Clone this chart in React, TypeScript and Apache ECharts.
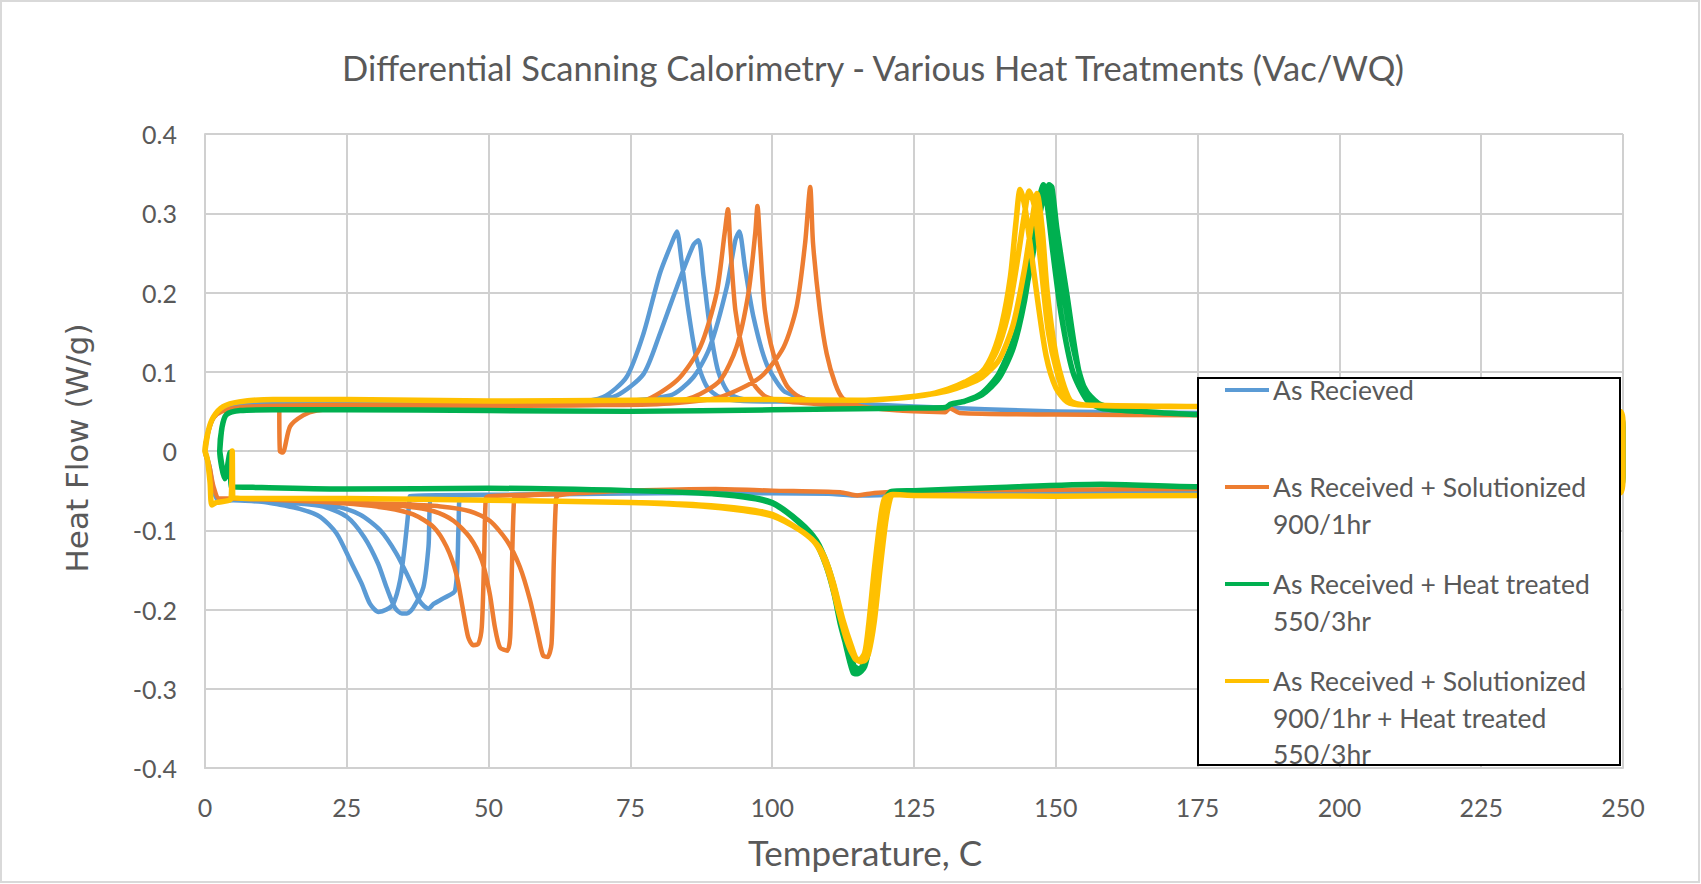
import React, { useEffect, useRef } from "react";
import * as echarts from "echarts";

type Pt = [number, number];

const xTicks = [0, 25, 50, 75, 100, 125, 150, 175, 200, 225, 250];
const yTicks = [-0.4, -0.3, -0.2, -0.1, 0, 0.1, 0.2, 0.3, 0.4];

const seriesNames = [
  "As Recieved",
  "As Received + Solutionized 900/1hr",
  "As Received + Heat treated 550/3hr",
  "As Received + Solutionized 900/1hr + Heat treated 550/3hr",
];
const legendLines = [
  ["As Recieved"],
  ["As Received + Solutionized", "900/1hr"],
  ["As Received + Heat treated", "550/3hr"],
  ["As Received + Solutionized", "900/1hr + Heat treated", "550/3hr"],
];
const colors = ["#5B9BD5", "#ED7D31", "#00B050", "#FFC000"];

// ---------- As Recieved (blue) ----------
const blueHeatStart: Pt[] = [[0, 0], [0.6, 0.025], [1.5, 0.042], [3, 0.052], [6, 0.057], [12, 0.06], [25, 0.061], [50, 0.061], [65, 0.062]];
const bluePeak1: Pt[] = [[70.2, 0.068], [74.3, 0.093], [77.3, 0.148], [80.2, 0.224], [82.6, 0.268], [83.2, 0.277], [84.0, 0.241], [85.2, 0.178], [86.7, 0.115], [88.5, 0.081], [90.8, 0.068], [95, 0.063]];
const bluePeak2: Pt[] = [[68, 0.063], [72.6, 0.07], [77.3, 0.097], [80.2, 0.148], [83.2, 0.207], [86.1, 0.26], [87.0, 0.266], [87.9, 0.22], [89.0, 0.157], [90.5, 0.1], [92.5, 0.072], [96, 0.064]];
const bluePeak3: Pt[] = [[70, 0.062], [82, 0.07], [86.1, 0.093], [89, 0.131], [92, 0.207], [93.5, 0.266], [94.2, 0.277], [95.2, 0.232], [96.7, 0.169], [99, 0.11], [102, 0.076], [104.8, 0.068]];
const blueHeatEnd: Pt[] = [[108, 0.062], [125, 0.056], [150, 0.05], [175, 0.048], [200, 0.047], [249.5, 0.046], [250, 0.03], [250, -0.03], [249.5, -0.05]];
const blueCoolStart: Pt[] = [[225, -0.05], [200, -0.051], [175, -0.051], [150, -0.052], [125, -0.054], [117, -0.056], [114, -0.056], [110, -0.054], [90, -0.053], [70, -0.054], [55, -0.055]];
const blueValley1: Pt[] = [[36.1, -0.057], [36.0, -0.066], [35.2, -0.121], [34.4, -0.163], [33.2, -0.193], [32.0, -0.2], [30.6, -0.203], [29.1, -0.193], [27.6, -0.167], [25.6, -0.138], [23.2, -0.104], [20.3, -0.083], [16.7, -0.073], [12.6, -0.067]];
const blueValley2: Pt[] = [[40, -0.057], [39.4, -0.121], [38.5, -0.172], [36.7, -0.198], [35.6, -0.205], [34.7, -0.205], [33.5, -0.198], [32, -0.172], [30.5, -0.142], [28.1, -0.109], [25, -0.083], [20.9, -0.07], [16.2, -0.066]];
const blueValley3: Pt[] = [[45, -0.057], [44.7, -0.096], [44.1, -0.176], [42, -0.186], [40.3, -0.193], [39.4, -0.199], [37.9, -0.19], [36.1, -0.163], [33.8, -0.13], [30.9, -0.1], [27.3, -0.08], [22.6, -0.069], [18, -0.066]];
const blueCoolEnd: Pt[] = [[10, -0.064], [5, -0.062], [2.5, -0.063], [1.5, -0.05], [0.8, -0.02], [0, 0]];

// ---------- Solutionized (orange) ----------
const orangeHeatFirst: Pt[] = [[13.1, 0.05], [13.2, 0.0], [13.7, -0.002], [15, 0.031], [17.3, 0.045], [19.7, 0.051], [25, 0.055], [50, 0.057], [70, 0.058]];
const orangeHeatStart: Pt[] = [[0, 0], [0.6, 0.025], [1.5, 0.042], [3, 0.05], [6, 0.055], [12, 0.057], [25, 0.058], [50, 0.058], [70, 0.058]];
const orangePeak1: Pt[] = [[77.3, 0.063], [83.2, 0.089], [87.3, 0.131], [90.2, 0.199], [91.6, 0.274], [92.2, 0.305], [92.6, 0.262], [93.5, 0.178], [94.9, 0.123], [96.7, 0.085], [99, 0.068], [103, 0.062]];
const orangePeak2: Pt[] = [[80, 0.06], [86.1, 0.068], [90.8, 0.089], [93.7, 0.131], [95.8, 0.199], [97, 0.274], [97.4, 0.309], [97.9, 0.258], [98.7, 0.178], [100.2, 0.123], [102.6, 0.082], [104.8, 0.068], [108, 0.062]];
const orangePeak3: Pt[] = [[82, 0.06], [90.8, 0.068], [97.9, 0.093], [102, 0.131], [104.3, 0.182], [105.8, 0.262], [106.7, 0.333], [107.2, 0.262], [108.4, 0.178], [109.6, 0.123], [111.1, 0.085], [112.5, 0.066], [115, 0.058]];
const orangeHeatEnd: Pt[] = [[118, 0.054], [125, 0.05], [130.5, 0.049], [131.3, 0.054], [133, 0.048], [150, 0.046], [175, 0.045], [200, 0.045], [249.5, 0.044], [250, 0.03], [250, -0.03], [249.5, -0.048]];
const orangeCoolStart: Pt[] = [[225, -0.048], [200, -0.048], [175, -0.048], [150, -0.049], [125, -0.05], [118, -0.053], [115, -0.056], [112, -0.052], [100, -0.05], [90, -0.048], [75, -0.05], [66, -0.053]];
const orangeValley1: Pt[] = [[50, -0.057], [49.5, -0.06], [49.2, -0.138], [48.8, -0.222], [48.2, -0.243], [47.3, -0.245], [46.4, -0.235], [45.5, -0.201], [44.3, -0.155], [42.6, -0.121], [40.3, -0.096], [36.7, -0.08], [32, -0.072], [26.2, -0.067]];
const orangeValley2: Pt[] = [[55, -0.057], [54.5, -0.06], [54.1, -0.15], [53.8, -0.235], [53.3, -0.252], [52, -0.248], [51.1, -0.222], [50.2, -0.18], [48.8, -0.138], [46.7, -0.109], [43.8, -0.088], [40.3, -0.076], [35.6, -0.07], [29.7, -0.068]];
const orangeValley3: Pt[] = [[62.3, -0.056], [61.9, -0.06], [61.5, -0.138], [61.1, -0.243], [60.4, -0.26], [59.6, -0.258], [58.8, -0.235], [57.3, -0.188], [55.5, -0.146], [53.2, -0.113], [50.2, -0.088], [46.7, -0.076], [41.5, -0.07], [33.8, -0.067]];
const orangeCoolEnd: Pt[] = [[20, -0.064], [10, -0.061], [5, -0.06], [2.5, -0.06], [1.5, -0.045], [0.8, -0.02], [0, 0]];

// ---------- Heat treated (green) ----------
const greenHeatStart: Pt[] = [[2.6, 0], [3.0, 0.03], [3.8, 0.046], [6.2, 0.051], [12, 0.052], [25, 0.052], [50, 0.051], [75, 0.05], [100, 0.052], [122.5, 0.054], [130.5, 0.055], [131.5, 0.059], [134, 0.063]];
const greenPeak1: Pt[] = [[137, 0.071], [140, 0.092], [142.5, 0.13], [144.5, 0.19], [146, 0.26], [147.3, 0.325], [147.8, 0.336], [148.5, 0.31], [149.5, 0.25], [151, 0.17], [153, 0.1], [155.5, 0.064], [158, 0.054]];
const greenPeak2: Pt[] = [[137, 0.073], [140, 0.098], [143, 0.15], [145.5, 0.23], [147.5, 0.31], [148.8, 0.336], [149.3, 0.333], [150.2, 0.28], [151.9, 0.2], [154.3, 0.093], [156.6, 0.064], [160, 0.054]];
const greenPeak3: Pt[] = [[137, 0.072], [140, 0.095], [142.8, 0.14], [145, 0.22], [147, 0.31], [148.3, 0.333], [149, 0.31], [150.5, 0.24], [152.5, 0.15], [155, 0.08], [157.5, 0.06], [160, 0.053]];
const greenHeatEnd: Pt[] = [[165, 0.05], [175, 0.046], [200, 0.045], [225, 0.044], [249.5, 0.043], [250, 0.03], [250, -0.03], [249.5, -0.046]];
const greenCoolStart: Pt[] = [[225, -0.045], [200, -0.044], [175, -0.045], [158, -0.042], [140, -0.046], [125, -0.05], [121, -0.051]];
const greenValley1: Pt[] = [[120.5, -0.06], [119.5, -0.1], [118.5, -0.17], [117.5, -0.23], [116.3, -0.272], [115, -0.281], [114.3, -0.28], [113.3, -0.255], [112.2, -0.22], [111, -0.18], [109.7, -0.145], [107.8, -0.115], [104.9, -0.091], [100, -0.066], [95, -0.058], [87, -0.053]];
const greenValley2: Pt[] = [[120.3, -0.06], [119.2, -0.11], [118, -0.2], [116.8, -0.255], [115.5, -0.275], [114.5, -0.272], [113.5, -0.25], [112.4, -0.22], [111.2, -0.18], [109.8, -0.145], [107.8, -0.113], [104.9, -0.09], [100, -0.065], [95, -0.057], [87, -0.053]];
const greenValley3: Pt[] = [[120.1, -0.06], [119, -0.11], [117.8, -0.2], [116.5, -0.258], [115.2, -0.278], [114.2, -0.274], [113.2, -0.25], [112, -0.218], [110.9, -0.18], [109.5, -0.145], [107.6, -0.114], [104.7, -0.09], [100, -0.066], [95, -0.058], [87, -0.053]];
const greenCoolEnd: Pt[] = [[75, -0.05], [50, -0.047], [25, -0.048], [10, -0.046], [4.6, -0.045], [4.4, -0.002], [3.5, -0.035], [2.6, 0]];

// ---------- Solutionized + Heat treated (yellow) ----------
const yellowHeatStart: Pt[] = [[0, 0], [0.6, 0.026], [1.5, 0.043], [3.2, 0.056], [6, 0.062], [12, 0.065], [25, 0.065], [50, 0.063], [75, 0.064], [100, 0.065], [115, 0.064], [122.5, 0.067], [128, 0.072]];
const yellowPeak1: Pt[] = [[131, 0.078], [134, 0.087], [137, 0.1], [139, 0.125], [140.5, 0.16], [142, 0.22], [143, 0.29], [143.7, 0.33], [144.5, 0.31], [145.5, 0.26], [146.8, 0.19], [148.3, 0.12], [150, 0.08], [152, 0.062], [155, 0.058]];
const yellowPeak2: Pt[] = [[131, 0.077], [134, 0.085], [137, 0.097], [139.5, 0.125], [141.5, 0.17], [143, 0.23], [144.5, 0.3], [145.3, 0.328], [146.2, 0.31], [147.3, 0.24], [148.7, 0.15], [150.2, 0.1], [152, 0.065], [155, 0.058]];
const yellowPeak3: Pt[] = [[131, 0.076], [134, 0.083], [137, 0.093], [140, 0.115], [142.5, 0.16], [144.5, 0.23], [145.8, 0.29], [146.7, 0.325], [147.6, 0.28], [148.5, 0.2], [150.2, 0.115], [152.5, 0.064], [155, 0.058]];
const yellowHeatEnd: Pt[] = [[175, 0.056], [200, 0.054], [225, 0.052], [249.5, 0.05], [250, 0.035], [250, -0.03], [249.5, -0.053]];
const yellowCoolStart: Pt[] = [[225, -0.054], [200, -0.055], [175, -0.056], [150, -0.057], [125, -0.056], [121.3, -0.055]];
const yellowValley1: Pt[] = [[120.8, -0.06], [120, -0.09], [119, -0.15], [118, -0.215], [117, -0.255], [116.2, -0.265], [115, -0.264], [114, -0.247], [112.5, -0.214], [110.8, -0.167], [109.3, -0.135], [107.8, -0.117], [104.9, -0.1], [100, -0.082], [95, -0.075], [87, -0.069]];
const yellowValley2: Pt[] = [[120.3, -0.06], [119.4, -0.09], [118.4, -0.15], [117.3, -0.22], [116.4, -0.258], [115.6, -0.266], [114.6, -0.262], [113.6, -0.245], [112.2, -0.21], [110.5, -0.165], [109, -0.133], [107.5, -0.115], [104.5, -0.098], [100, -0.081], [95, -0.074], [87, -0.068]];
const yellowValley3: Pt[] = [[119.8, -0.06], [119, -0.09], [118, -0.15], [117, -0.22], [116.3, -0.255], [115.3, -0.264], [114.3, -0.258], [113.2, -0.24], [111.8, -0.205], [110.2, -0.16], [108.7, -0.13], [107.2, -0.113], [104.3, -0.097], [100, -0.08], [95, -0.073], [87, -0.068]];
const yellowCoolEnd: Pt[] = [[75, -0.065], [50, -0.062], [25, -0.06], [10, -0.06], [5, -0.059], [4.8, 0.0], [4.6, -0.06], [2, -0.065], [1.2, -0.068], [0.9, -0.04], [0.4, -0.01], [0, 0]];

const blueData: Pt[] = [
  ...blueHeatStart, ...bluePeak1, ...blueHeatEnd, ...blueCoolStart, ...blueValley1, ...blueCoolEnd,
  ...blueHeatStart, ...bluePeak2, ...blueHeatEnd, ...blueCoolStart, ...blueValley2, ...blueCoolEnd,
  ...blueHeatStart, ...bluePeak3, ...blueHeatEnd, ...blueCoolStart, ...blueValley3, ...blueCoolEnd,
];
const orangeData: Pt[] = [
  ...orangeHeatFirst, ...orangePeak1, ...orangeHeatEnd, ...orangeCoolStart, ...orangeValley1, ...orangeCoolEnd,
  ...orangeHeatStart, ...orangePeak2, ...orangeHeatEnd, ...orangeCoolStart, ...orangeValley2, ...orangeCoolEnd,
  ...orangeHeatStart, ...orangePeak3, ...orangeHeatEnd, ...orangeCoolStart, ...orangeValley3, ...orangeCoolEnd,
];
const greenData: Pt[] = [
  ...greenHeatStart, ...greenPeak1, ...greenHeatEnd, ...greenCoolStart, ...greenValley1, ...greenCoolEnd,
  ...greenHeatStart, ...greenPeak2, ...greenHeatEnd, ...greenCoolStart, ...greenValley2, ...greenCoolEnd,
  ...greenHeatStart, ...greenPeak3, ...greenHeatEnd, ...greenCoolStart, ...greenValley3, ...greenCoolEnd,
];
const yellowData: Pt[] = [
  ...yellowHeatStart, ...yellowPeak1, ...yellowHeatEnd, ...yellowCoolStart, ...yellowValley1, ...yellowCoolEnd,
  ...yellowHeatStart, ...yellowPeak2, ...yellowHeatEnd, ...yellowCoolStart, ...yellowValley2, ...yellowCoolEnd,
  ...yellowHeatStart, ...yellowPeak3, ...yellowHeatEnd, ...yellowCoolStart, ...yellowValley3, ...yellowCoolEnd,
];
const allData = [blueData, orangeData, greenData, yellowData];
const lineWidths = [4.5, 4.5, 5.5, 5.5];

const W = 1701;
const H = 884;
const GRID = { left: 205, top: 134, right: 78, bottom: 116 };
const TEXT = "#595959";
const FONT = "Lato, 'Open Sans', sans-serif";

export default function App() {
  const ref = useRef<HTMLDivElement>(null);
  useEffect(() => {
    if (!ref.current) return;
    const chart = echarts.init(ref.current, undefined, { renderer: "svg" });

    const legX = 1198, legY = 378, legW = 422, legH = 387;
    const itemY = [390, 487, 584, 681];
    const legendGraphics: any[] = [
      { type: "rect", z: 100, shape: { x: legX, y: legY, width: legW, height: legH }, style: { fill: "#fff", stroke: "#000", lineWidth: 2 } },
    ];
    legendLines.forEach((lines, i) => {
      legendGraphics.push({ type: "line", z: 101, shape: { x1: 1225, y1: itemY[i], x2: 1269, y2: itemY[i] }, style: { stroke: colors[i], lineWidth: 4 } });
      lines.forEach((t, j) => {
        legendGraphics.push({
          type: "text", z: 101, x: 1273, y: itemY[i] + j * 36.5,
          style: { text: t, fill: TEXT, font: `26.5px ${FONT}`, textAlign: "left", textVerticalAlign: "middle" },
        });
      });
    });

    chart.setOption({
      animation: false,
      backgroundColor: "#fff",
      title: {
        text: "Differential Scanning Calorimetry - Various Heat Treatments (Vac/WQ)",
        left: 868, top: 45, textAlign: "center",
        textStyle: { color: TEXT, fontFamily: FONT, fontSize: 34.5, fontWeight: "normal" },
      },
      grid: GRID,
      xAxis: {
        type: "value", min: 0, max: 250, interval: 25,
        axisLine: { show: true, onZero: false, lineStyle: { color: "#d0d0d0", width: 2 } },
        axisTick: { show: false },
        splitLine: { show: true, lineStyle: { color: "#d0d0d0", width: 2 } },
        axisLabel: { color: TEXT, fontFamily: FONT, fontSize: 25, margin: 26, formatter: (v: number) => String(v) },
      },
      yAxis: {
        type: "value", min: -0.4, max: 0.4, interval: 0.1,
        axisLine: { show: true, onZero: false, lineStyle: { color: "#d0d0d0", width: 2 } },
        axisTick: { show: false },
        splitLine: { show: true, lineStyle: { color: "#d0d0d0", width: 2 } },
        axisLabel: { color: TEXT, fontFamily: FONT, fontSize: 25, margin: 28, formatter: (v: number) => String(Math.round(v * 10) / 10) },
      },
      series: allData.map((d, i) => ({
        name: seriesNames[i],
        type: "line",
        data: d,
        showSymbol: false,
        symbol: "none",
        smooth: 0.25,
        z: 2 + i * 0.01,
        lineStyle: { color: colors[i], width: lineWidths[i], cap: "round", join: "round" },
        emphasis: { disabled: true },
      })),
      graphic: [
        { type: "rect", z: 0, silent: true, shape: { x: 1, y: 1, width: W - 3, height: H - 3 }, style: { fill: "none", stroke: "#d9d9d9", lineWidth: 2 } },
        {
          type: "text", z: 100, x: 77, y: 448, rotation: Math.PI / 2,
          style: { text: "Heat Flow (W/g)", fill: TEXT, font: "31px 'DejaVu Sans', sans-serif", textAlign: "center", textVerticalAlign: "middle" },
        },
        {
          type: "text", z: 100, x: 865, y: 852,
          style: { text: "Temperature, C", fill: TEXT, font: `35px ${FONT}`, textAlign: "center", textVerticalAlign: "middle" },
        },
        ...legendGraphics,
      ],
    });
    return () => chart.dispose();
  }, []);
  return <div ref={ref} style={{ position: "fixed", left: 0, top: 0, width: W, height: H, background: "#fff" }} />;
}
